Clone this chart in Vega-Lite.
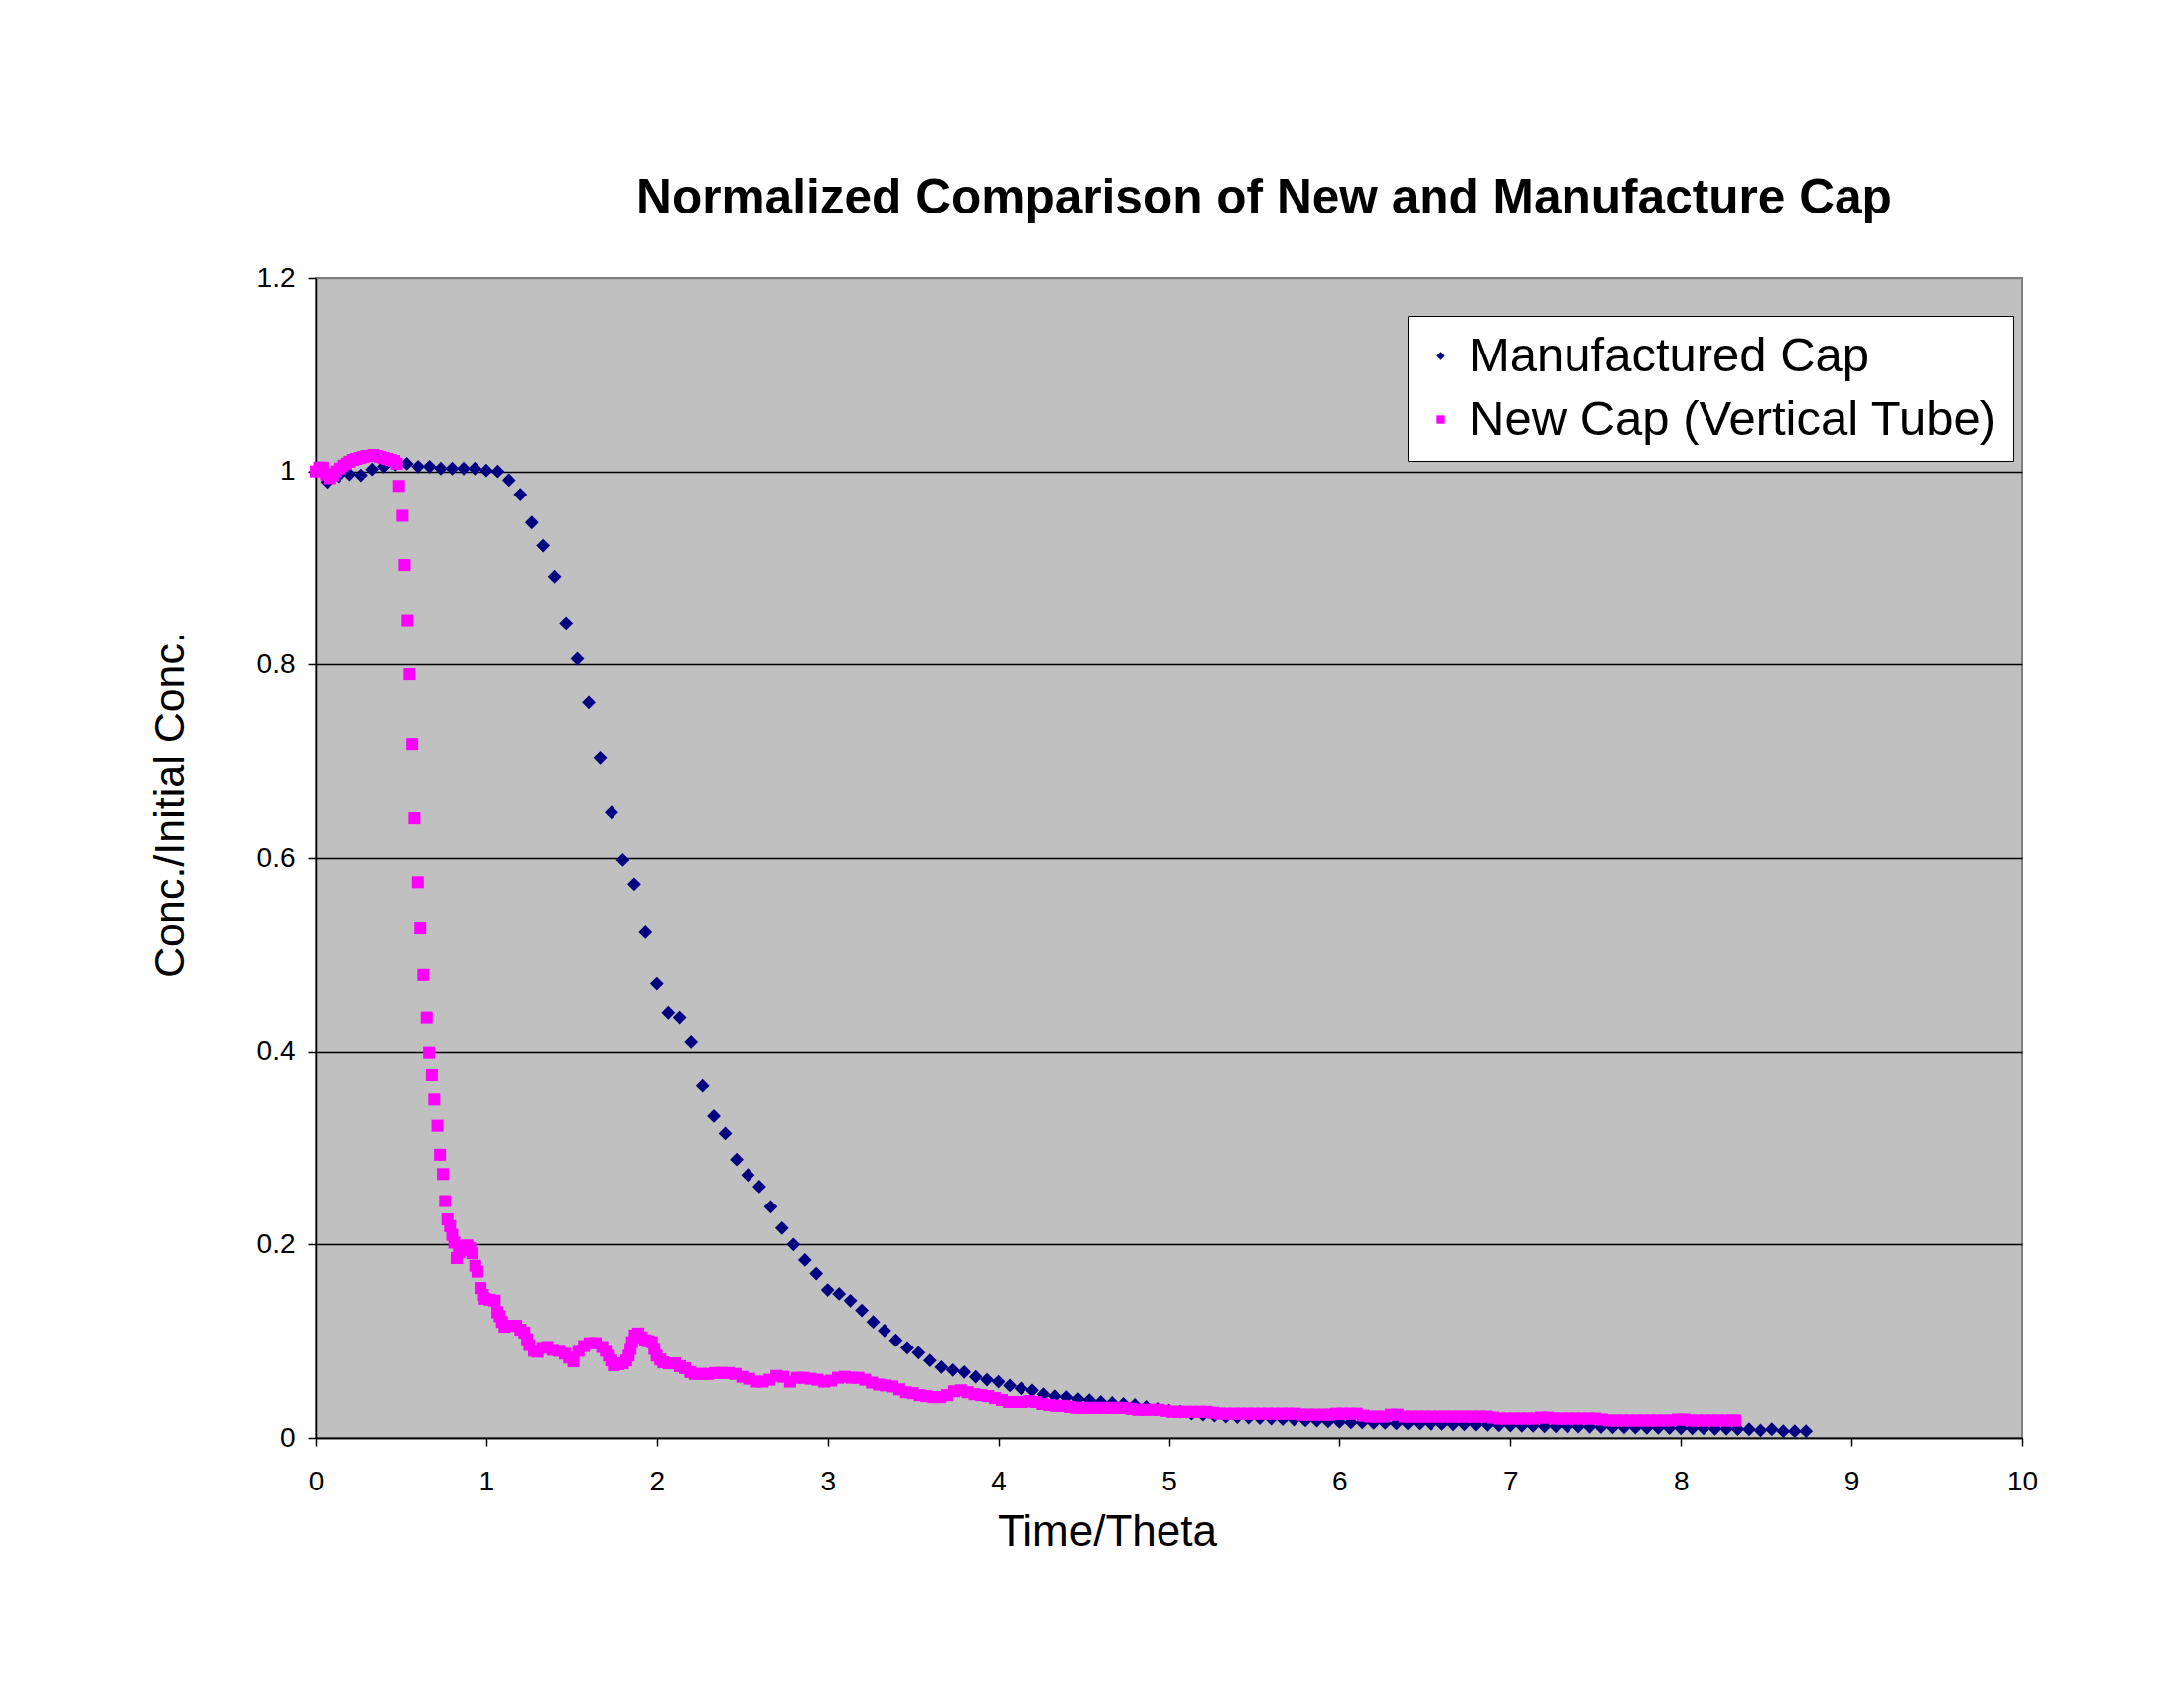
{
"$schema":"https://vega.github.io/schema/vega-lite/v6.json",
"width":1719,"height":1168,
"autosize":{"type":"none"},
"padding":{"left":318,"top":280,"right":163,"bottom":264},
"background":"white",
"title":{"text":"Normalized Comparison of New and Manufacture Cap","anchor":"middle","frame":"group","dx":96,"offset":40,"fontSize":49.6,"font":"Liberation Sans","fontWeight":"bold","color":"black"},
"datasets":{"pts":[
{"series":"Manufactured Cap","time":0,"conc":1.0},{"series":"Manufactured Cap","time":0.067,"conc":0.989},{"series":"Manufactured Cap","time":0.133,"conc":0.995},{"series":"Manufactured Cap","time":0.2,"conc":0.997},{"series":"Manufactured Cap","time":0.267,"conc":0.996},{"series":"Manufactured Cap","time":0.333,"conc":1.002},{"series":"Manufactured Cap","time":0.4,"conc":1.005},{"series":"Manufactured Cap","time":0.467,"conc":1.007},{"series":"Manufactured Cap","time":0.533,"conc":1.008},{"series":"Manufactured Cap","time":0.6,"conc":1.005},{"series":"Manufactured Cap","time":0.667,"conc":1.005},{"series":"Manufactured Cap","time":0.733,"conc":1.003},{"series":"Manufactured Cap","time":0.8,"conc":1.003},{"series":"Manufactured Cap","time":0.867,"conc":1.003},{"series":"Manufactured Cap","time":0.933,"conc":1.003},{"series":"Manufactured Cap","time":1.0,"conc":1.001},{"series":"Manufactured Cap","time":1.067,"conc":1.0},{"series":"Manufactured Cap","time":1.133,"conc":0.991},{"series":"Manufactured Cap","time":1.2,"conc":0.976},{"series":"Manufactured Cap","time":1.267,"conc":0.947},{"series":"Manufactured Cap","time":1.333,"conc":0.923},{"series":"Manufactured Cap","time":1.4,"conc":0.891},{"series":"Manufactured Cap","time":1.467,"conc":0.843},{"series":"Manufactured Cap","time":1.533,"conc":0.806},{"series":"Manufactured Cap","time":1.6,"conc":0.761},{"series":"Manufactured Cap","time":1.667,"conc":0.704},{"series":"Manufactured Cap","time":1.733,"conc":0.647},{"series":"Manufactured Cap","time":1.8,"conc":0.598},{"series":"Manufactured Cap","time":1.867,"conc":0.573},{"series":"Manufactured Cap","time":1.933,"conc":0.523},{"series":"Manufactured Cap","time":2.0,"conc":0.47},{"series":"Manufactured Cap","time":2.067,"conc":0.44},{"series":"Manufactured Cap","time":2.133,"conc":0.435},{"series":"Manufactured Cap","time":2.2,"conc":0.41},{"series":"Manufactured Cap","time":2.267,"conc":0.364},{"series":"Manufactured Cap","time":2.333,"conc":0.333},{"series":"Manufactured Cap","time":2.4,"conc":0.315},{"series":"Manufactured Cap","time":2.467,"conc":0.288},{"series":"Manufactured Cap","time":2.533,"conc":0.272},{"series":"Manufactured Cap","time":2.6,"conc":0.26},{"series":"Manufactured Cap","time":2.667,"conc":0.239},{"series":"Manufactured Cap","time":2.733,"conc":0.217},{"series":"Manufactured Cap","time":2.8,"conc":0.2},{"series":"Manufactured Cap","time":2.867,"conc":0.184},{"series":"Manufactured Cap","time":2.933,"conc":0.17},{"series":"Manufactured Cap","time":3.0,"conc":0.153},{"series":"Manufactured Cap","time":3.067,"conc":0.149},{"series":"Manufactured Cap","time":3.133,"conc":0.142},{"series":"Manufactured Cap","time":3.2,"conc":0.132},{"series":"Manufactured Cap","time":3.267,"conc":0.12},{"series":"Manufactured Cap","time":3.333,"conc":0.111},{"series":"Manufactured Cap","time":3.4,"conc":0.101},{"series":"Manufactured Cap","time":3.467,"conc":0.093},{"series":"Manufactured Cap","time":3.533,"conc":0.088},{"series":"Manufactured Cap","time":3.6,"conc":0.08},{"series":"Manufactured Cap","time":3.667,"conc":0.073},{"series":"Manufactured Cap","time":3.733,"conc":0.07},{"series":"Manufactured Cap","time":3.8,"conc":0.068},{"series":"Manufactured Cap","time":3.867,"conc":0.063},{"series":"Manufactured Cap","time":3.933,"conc":0.06},{"series":"Manufactured Cap","time":4.0,"conc":0.058},{"series":"Manufactured Cap","time":4.067,"conc":0.054},{"series":"Manufactured Cap","time":4.133,"conc":0.051},{"series":"Manufactured Cap","time":4.2,"conc":0.049},{"series":"Manufactured Cap","time":4.267,"conc":0.045},{"series":"Manufactured Cap","time":4.333,"conc":0.043},{"series":"Manufactured Cap","time":4.4,"conc":0.042},{"series":"Manufactured Cap","time":4.467,"conc":0.04},{"series":"Manufactured Cap","time":4.533,"conc":0.039},{"series":"Manufactured Cap","time":4.6,"conc":0.037},{"series":"Manufactured Cap","time":4.667,"conc":0.036},{"series":"Manufactured Cap","time":4.733,"conc":0.035},{"series":"Manufactured Cap","time":4.8,"conc":0.034},{"series":"Manufactured Cap","time":4.867,"conc":0.032},{"series":"Manufactured Cap","time":4.933,"conc":0.03},{"series":"Manufactured Cap","time":5.0,"conc":0.028},{"series":"Manufactured Cap","time":5.067,"conc":0.027},{"series":"Manufactured Cap","time":5.133,"conc":0.025},{"series":"Manufactured Cap","time":5.2,"conc":0.024},{"series":"Manufactured Cap","time":5.267,"conc":0.023},{"series":"Manufactured Cap","time":5.333,"conc":0.022},{"series":"Manufactured Cap","time":5.4,"conc":0.0215},{"series":"Manufactured Cap","time":5.467,"conc":0.021},{"series":"Manufactured Cap","time":5.533,"conc":0.0205},{"series":"Manufactured Cap","time":5.6,"conc":0.02},{"series":"Manufactured Cap","time":5.667,"conc":0.0195},{"series":"Manufactured Cap","time":5.733,"conc":0.019},{"series":"Manufactured Cap","time":5.8,"conc":0.018},{"series":"Manufactured Cap","time":5.867,"conc":0.0178},{"series":"Manufactured Cap","time":5.933,"conc":0.017},{"series":"Manufactured Cap","time":6.0,"conc":0.0165},{"series":"Manufactured Cap","time":6.067,"conc":0.016},{"series":"Manufactured Cap","time":6.133,"conc":0.016},{"series":"Manufactured Cap","time":6.2,"conc":0.0155},{"series":"Manufactured Cap","time":6.267,"conc":0.0155},{"series":"Manufactured Cap","time":6.333,"conc":0.015},{"series":"Manufactured Cap","time":6.4,"conc":0.015},{"series":"Manufactured Cap","time":6.467,"conc":0.015},{"series":"Manufactured Cap","time":6.533,"conc":0.0145},{"series":"Manufactured Cap","time":6.6,"conc":0.0145},{"series":"Manufactured Cap","time":6.667,"conc":0.014},{"series":"Manufactured Cap","time":6.733,"conc":0.014},{"series":"Manufactured Cap","time":6.8,"conc":0.0138},{"series":"Manufactured Cap","time":6.867,"conc":0.0135},{"series":"Manufactured Cap","time":6.933,"conc":0.013},{"series":"Manufactured Cap","time":7.0,"conc":0.0128},{"series":"Manufactured Cap","time":7.067,"conc":0.0125},{"series":"Manufactured Cap","time":7.133,"conc":0.0125},{"series":"Manufactured Cap","time":7.2,"conc":0.012},{"series":"Manufactured Cap","time":7.267,"conc":0.012},{"series":"Manufactured Cap","time":7.333,"conc":0.012},{"series":"Manufactured Cap","time":7.4,"conc":0.0118},{"series":"Manufactured Cap","time":7.467,"conc":0.0115},{"series":"Manufactured Cap","time":7.533,"conc":0.0112},{"series":"Manufactured Cap","time":7.6,"conc":0.011},{"series":"Manufactured Cap","time":7.667,"conc":0.011},{"series":"Manufactured Cap","time":7.733,"conc":0.0108},{"series":"Manufactured Cap","time":7.8,"conc":0.0105},{"series":"Manufactured Cap","time":7.867,"conc":0.0105},{"series":"Manufactured Cap","time":7.933,"conc":0.0102},{"series":"Manufactured Cap","time":8.0,"conc":0.01},{"series":"Manufactured Cap","time":8.067,"conc":0.01},{"series":"Manufactured Cap","time":8.133,"conc":0.0098},{"series":"Manufactured Cap","time":8.2,"conc":0.0095},{"series":"Manufactured Cap","time":8.267,"conc":0.0095},{"series":"Manufactured Cap","time":8.333,"conc":0.0092},{"series":"Manufactured Cap","time":8.4,"conc":0.009},{"series":"Manufactured Cap","time":8.467,"conc":0.0078},{"series":"Manufactured Cap","time":8.533,"conc":0.009},{"series":"Manufactured Cap","time":8.6,"conc":0.007},{"series":"Manufactured Cap","time":8.667,"conc":0.007},{"series":"Manufactured Cap","time":8.733,"conc":0.007},
{"series":"New Cap (Vertical Tube)","time":0,"conc":1.0},{"series":"New Cap (Vertical Tube)","time":0.02,"conc":1.004},{"series":"New Cap (Vertical Tube)","time":0.04,"conc":1.004},{"series":"New Cap (Vertical Tube)","time":0.06,"conc":0.997},{"series":"New Cap (Vertical Tube)","time":0.08,"conc":0.993},{"series":"New Cap (Vertical Tube)","time":0.1,"conc":0.996},{"series":"New Cap (Vertical Tube)","time":0.12,"conc":1.0},{"series":"New Cap (Vertical Tube)","time":0.14,"conc":1.003},{"series":"New Cap (Vertical Tube)","time":0.16,"conc":1.006},{"series":"New Cap (Vertical Tube)","time":0.18,"conc":1.008},{"series":"New Cap (Vertical Tube)","time":0.2,"conc":1.01},{"series":"New Cap (Vertical Tube)","time":0.22,"conc":1.012},{"series":"New Cap (Vertical Tube)","time":0.24,"conc":1.013},{"series":"New Cap (Vertical Tube)","time":0.26,"conc":1.014},{"series":"New Cap (Vertical Tube)","time":0.28,"conc":1.015},{"series":"New Cap (Vertical Tube)","time":0.3,"conc":1.016},{"series":"New Cap (Vertical Tube)","time":0.32,"conc":1.016},{"series":"New Cap (Vertical Tube)","time":0.34,"conc":1.017},{"series":"New Cap (Vertical Tube)","time":0.36,"conc":1.016},{"series":"New Cap (Vertical Tube)","time":0.38,"conc":1.015},{"series":"New Cap (Vertical Tube)","time":0.4,"conc":1.014},{"series":"New Cap (Vertical Tube)","time":0.42,"conc":1.013},{"series":"New Cap (Vertical Tube)","time":0.44,"conc":1.012},{"series":"New Cap (Vertical Tube)","time":0.46,"conc":1.011},{"series":"New Cap (Vertical Tube)","time":0.475,"conc":1.008},{"series":"New Cap (Vertical Tube)","time":0.487,"conc":0.985},{"series":"New Cap (Vertical Tube)","time":0.508,"conc":0.954},{"series":"New Cap (Vertical Tube)","time":0.52,"conc":0.903},{"series":"New Cap (Vertical Tube)","time":0.537,"conc":0.846},{"series":"New Cap (Vertical Tube)","time":0.549,"conc":0.79},{"series":"New Cap (Vertical Tube)","time":0.565,"conc":0.718},{"series":"New Cap (Vertical Tube)","time":0.578,"conc":0.641},{"series":"New Cap (Vertical Tube)","time":0.598,"conc":0.575},{"series":"New Cap (Vertical Tube)","time":0.612,"conc":0.527},{"series":"New Cap (Vertical Tube)","time":0.63,"conc":0.479},{"series":"New Cap (Vertical Tube)","time":0.65,"conc":0.435},{"series":"New Cap (Vertical Tube)","time":0.664,"conc":0.399},{"series":"New Cap (Vertical Tube)","time":0.68,"conc":0.375},{"series":"New Cap (Vertical Tube)","time":0.694,"conc":0.35},{"series":"New Cap (Vertical Tube)","time":0.713,"conc":0.323},{"series":"New Cap (Vertical Tube)","time":0.728,"conc":0.293},{"series":"New Cap (Vertical Tube)","time":0.745,"conc":0.273},{"series":"New Cap (Vertical Tube)","time":0.758,"conc":0.245},{"series":"New Cap (Vertical Tube)","time":0.772,"conc":0.226},{"series":"New Cap (Vertical Tube)","time":0.787,"conc":0.219},{"series":"New Cap (Vertical Tube)","time":0.8,"conc":0.21},{"series":"New Cap (Vertical Tube)","time":0.812,"conc":0.202},{"series":"New Cap (Vertical Tube)","time":0.826,"conc":0.186},{"series":"New Cap (Vertical Tube)","time":0.84,"conc":0.192},{"series":"New Cap (Vertical Tube)","time":0.855,"conc":0.194},{"series":"New Cap (Vertical Tube)","time":0.87,"conc":0.198},{"series":"New Cap (Vertical Tube)","time":0.888,"conc":0.199},{"series":"New Cap (Vertical Tube)","time":0.905,"conc":0.196},{"series":"New Cap (Vertical Tube)","time":0.918,"conc":0.191},{"series":"New Cap (Vertical Tube)","time":0.935,"conc":0.178},{"series":"New Cap (Vertical Tube)","time":0.948,"conc":0.172},{"series":"New Cap (Vertical Tube)","time":0.966,"conc":0.155},{"series":"New Cap (Vertical Tube)","time":0.98,"conc":0.148},{"series":"New Cap (Vertical Tube)","time":0.991,"conc":0.144},{"series":"New Cap (Vertical Tube)","time":1.02,"conc":0.143},{"series":"New Cap (Vertical Tube)","time":1.049,"conc":0.142},{"series":"New Cap (Vertical Tube)","time":1.065,"conc":0.13},{"series":"New Cap (Vertical Tube)","time":1.078,"conc":0.126},{"series":"New Cap (Vertical Tube)","time":1.092,"conc":0.12},{"series":"New Cap (Vertical Tube)","time":1.107,"conc":0.115},{"series":"New Cap (Vertical Tube)","time":1.14,"conc":0.116},{"series":"New Cap (Vertical Tube)","time":1.175,"conc":0.116},{"series":"New Cap (Vertical Tube)","time":1.2,"conc":0.112},{"series":"New Cap (Vertical Tube)","time":1.223,"conc":0.109},{"series":"New Cap (Vertical Tube)","time":1.24,"conc":0.102},{"series":"New Cap (Vertical Tube)","time":1.253,"conc":0.096},{"series":"New Cap (Vertical Tube)","time":1.28,"conc":0.09},{"series":"New Cap (Vertical Tube)","time":1.301,"conc":0.089},{"series":"New Cap (Vertical Tube)","time":1.33,"conc":0.093},{"series":"New Cap (Vertical Tube)","time":1.359,"conc":0.094},{"series":"New Cap (Vertical Tube)","time":1.39,"conc":0.091},{"series":"New Cap (Vertical Tube)","time":1.427,"conc":0.09},{"series":"New Cap (Vertical Tube)","time":1.46,"conc":0.087},{"series":"New Cap (Vertical Tube)","time":1.485,"conc":0.083},{"series":"New Cap (Vertical Tube)","time":1.51,"conc":0.079},{"series":"New Cap (Vertical Tube)","time":1.54,"conc":0.09},{"series":"New Cap (Vertical Tube)","time":1.572,"conc":0.095},{"series":"New Cap (Vertical Tube)","time":1.605,"conc":0.098},{"series":"New Cap (Vertical Tube)","time":1.64,"conc":0.098},{"series":"New Cap (Vertical Tube)","time":1.679,"conc":0.094},{"series":"New Cap (Vertical Tube)","time":1.7,"conc":0.09},{"series":"New Cap (Vertical Tube)","time":1.718,"conc":0.085},{"series":"New Cap (Vertical Tube)","time":1.732,"conc":0.08},{"series":"New Cap (Vertical Tube)","time":1.747,"conc":0.075},{"series":"New Cap (Vertical Tube)","time":1.775,"conc":0.076},{"series":"New Cap (Vertical Tube)","time":1.8,"conc":0.077},{"series":"New Cap (Vertical Tube)","time":1.82,"conc":0.08},{"series":"New Cap (Vertical Tube)","time":1.834,"conc":0.085},{"series":"New Cap (Vertical Tube)","time":1.845,"conc":0.092},{"series":"New Cap (Vertical Tube)","time":1.854,"conc":0.099},{"series":"New Cap (Vertical Tube)","time":1.87,"conc":0.106},{"series":"New Cap (Vertical Tube)","time":1.89,"conc":0.108},{"series":"New Cap (Vertical Tube)","time":1.91,"conc":0.104},{"series":"New Cap (Vertical Tube)","time":1.931,"conc":0.101},{"series":"New Cap (Vertical Tube)","time":1.95,"conc":0.1},{"series":"New Cap (Vertical Tube)","time":1.97,"conc":0.099},{"series":"New Cap (Vertical Tube)","time":1.985,"conc":0.092},{"series":"New Cap (Vertical Tube)","time":1.999,"conc":0.085},{"series":"New Cap (Vertical Tube)","time":2.02,"conc":0.081},{"series":"New Cap (Vertical Tube)","time":2.038,"conc":0.078},{"series":"New Cap (Vertical Tube)","time":2.07,"conc":0.077},{"series":"New Cap (Vertical Tube)","time":2.106,"conc":0.077},{"series":"New Cap (Vertical Tube)","time":2.135,"conc":0.074},{"series":"New Cap (Vertical Tube)","time":2.164,"conc":0.072},{"series":"New Cap (Vertical Tube)","time":2.195,"conc":0.068},{"series":"New Cap (Vertical Tube)","time":2.222,"conc":0.066},{"series":"New Cap (Vertical Tube)","time":2.26,"conc":0.066},{"series":"New Cap (Vertical Tube)","time":2.3,"conc":0.066},{"series":"New Cap (Vertical Tube)","time":2.34,"conc":0.067},{"series":"New Cap (Vertical Tube)","time":2.38,"conc":0.067},{"series":"New Cap (Vertical Tube)","time":2.42,"conc":0.067},{"series":"New Cap (Vertical Tube)","time":2.46,"conc":0.066},{"series":"New Cap (Vertical Tube)","time":2.5,"conc":0.063},{"series":"New Cap (Vertical Tube)","time":2.54,"conc":0.061},{"series":"New Cap (Vertical Tube)","time":2.58,"conc":0.058},{"series":"New Cap (Vertical Tube)","time":2.62,"conc":0.058},{"series":"New Cap (Vertical Tube)","time":2.66,"conc":0.06},{"series":"New Cap (Vertical Tube)","time":2.7,"conc":0.064},{"series":"New Cap (Vertical Tube)","time":2.74,"conc":0.063},{"series":"New Cap (Vertical Tube)","time":2.78,"conc":0.058},{"series":"New Cap (Vertical Tube)","time":2.82,"conc":0.062},{"series":"New Cap (Vertical Tube)","time":2.86,"conc":0.062},{"series":"New Cap (Vertical Tube)","time":2.9,"conc":0.061},{"series":"New Cap (Vertical Tube)","time":2.94,"conc":0.06},{"series":"New Cap (Vertical Tube)","time":2.98,"conc":0.058},{"series":"New Cap (Vertical Tube)","time":3.02,"conc":0.059},{"series":"New Cap (Vertical Tube)","time":3.06,"conc":0.062},{"series":"New Cap (Vertical Tube)","time":3.1,"conc":0.063},{"series":"New Cap (Vertical Tube)","time":3.14,"conc":0.062},{"series":"New Cap (Vertical Tube)","time":3.18,"conc":0.062},{"series":"New Cap (Vertical Tube)","time":3.22,"conc":0.06},{"series":"New Cap (Vertical Tube)","time":3.26,"conc":0.057},{"series":"New Cap (Vertical Tube)","time":3.3,"conc":0.055},{"series":"New Cap (Vertical Tube)","time":3.34,"conc":0.054},{"series":"New Cap (Vertical Tube)","time":3.38,"conc":0.053},{"series":"New Cap (Vertical Tube)","time":3.42,"conc":0.05},{"series":"New Cap (Vertical Tube)","time":3.46,"conc":0.047},{"series":"New Cap (Vertical Tube)","time":3.5,"conc":0.046},{"series":"New Cap (Vertical Tube)","time":3.54,"conc":0.044},{"series":"New Cap (Vertical Tube)","time":3.58,"conc":0.043},{"series":"New Cap (Vertical Tube)","time":3.62,"conc":0.042},{"series":"New Cap (Vertical Tube)","time":3.66,"conc":0.042},{"series":"New Cap (Vertical Tube)","time":3.7,"conc":0.044},{"series":"New Cap (Vertical Tube)","time":3.74,"conc":0.048},{"series":"New Cap (Vertical Tube)","time":3.78,"conc":0.049},{"series":"New Cap (Vertical Tube)","time":3.82,"conc":0.047},{"series":"New Cap (Vertical Tube)","time":3.86,"conc":0.045},{"series":"New Cap (Vertical Tube)","time":3.9,"conc":0.044},{"series":"New Cap (Vertical Tube)","time":3.94,"conc":0.043},{"series":"New Cap (Vertical Tube)","time":3.98,"conc":0.041},{"series":"New Cap (Vertical Tube)","time":4.02,"conc":0.039},{"series":"New Cap (Vertical Tube)","time":4.06,"conc":0.037},{"series":"New Cap (Vertical Tube)","time":4.1,"conc":0.037},{"series":"New Cap (Vertical Tube)","time":4.14,"conc":0.037},{"series":"New Cap (Vertical Tube)","time":4.18,"conc":0.038},{"series":"New Cap (Vertical Tube)","time":4.22,"conc":0.037},{"series":"New Cap (Vertical Tube)","time":4.26,"conc":0.035},{"series":"New Cap (Vertical Tube)","time":4.3,"conc":0.034},{"series":"New Cap (Vertical Tube)","time":4.34,"conc":0.033},{"series":"New Cap (Vertical Tube)","time":4.38,"conc":0.033},{"series":"New Cap (Vertical Tube)","time":4.42,"conc":0.032},{"series":"New Cap (Vertical Tube)","time":4.46,"conc":0.031},{"series":"New Cap (Vertical Tube)","time":4.5,"conc":0.031},{"series":"New Cap (Vertical Tube)","time":4.54,"conc":0.031},{"series":"New Cap (Vertical Tube)","time":4.58,"conc":0.031},{"series":"New Cap (Vertical Tube)","time":4.62,"conc":0.031},{"series":"New Cap (Vertical Tube)","time":4.66,"conc":0.031},{"series":"New Cap (Vertical Tube)","time":4.7,"conc":0.031},{"series":"New Cap (Vertical Tube)","time":4.74,"conc":0.031},{"series":"New Cap (Vertical Tube)","time":4.78,"conc":0.03},{"series":"New Cap (Vertical Tube)","time":4.82,"conc":0.029},{"series":"New Cap (Vertical Tube)","time":4.86,"conc":0.029},{"series":"New Cap (Vertical Tube)","time":4.9,"conc":0.029},{"series":"New Cap (Vertical Tube)","time":4.94,"conc":0.029},{"series":"New Cap (Vertical Tube)","time":4.98,"conc":0.028},{"series":"New Cap (Vertical Tube)","time":5.02,"conc":0.027},{"series":"New Cap (Vertical Tube)","time":5.06,"conc":0.027},{"series":"New Cap (Vertical Tube)","time":5.1,"conc":0.027},{"series":"New Cap (Vertical Tube)","time":5.14,"conc":0.027},{"series":"New Cap (Vertical Tube)","time":5.18,"conc":0.027},{"series":"New Cap (Vertical Tube)","time":5.22,"conc":0.027},{"series":"New Cap (Vertical Tube)","time":5.26,"conc":0.026},{"series":"New Cap (Vertical Tube)","time":5.3,"conc":0.025},{"series":"New Cap (Vertical Tube)","time":5.34,"conc":0.025},{"series":"New Cap (Vertical Tube)","time":5.38,"conc":0.025},{"series":"New Cap (Vertical Tube)","time":5.42,"conc":0.025},{"series":"New Cap (Vertical Tube)","time":5.46,"conc":0.025},{"series":"New Cap (Vertical Tube)","time":5.5,"conc":0.025},{"series":"New Cap (Vertical Tube)","time":5.54,"conc":0.025},{"series":"New Cap (Vertical Tube)","time":5.58,"conc":0.025},{"series":"New Cap (Vertical Tube)","time":5.62,"conc":0.025},{"series":"New Cap (Vertical Tube)","time":5.66,"conc":0.025},{"series":"New Cap (Vertical Tube)","time":5.7,"conc":0.025},{"series":"New Cap (Vertical Tube)","time":5.74,"conc":0.025},{"series":"New Cap (Vertical Tube)","time":5.78,"conc":0.024},{"series":"New Cap (Vertical Tube)","time":5.82,"conc":0.024},{"series":"New Cap (Vertical Tube)","time":5.86,"conc":0.024},{"series":"New Cap (Vertical Tube)","time":5.9,"conc":0.024},{"series":"New Cap (Vertical Tube)","time":5.94,"conc":0.024},{"series":"New Cap (Vertical Tube)","time":5.98,"conc":0.025},{"series":"New Cap (Vertical Tube)","time":6.02,"conc":0.025},{"series":"New Cap (Vertical Tube)","time":6.06,"conc":0.025},{"series":"New Cap (Vertical Tube)","time":6.1,"conc":0.025},{"series":"New Cap (Vertical Tube)","time":6.14,"conc":0.023},{"series":"New Cap (Vertical Tube)","time":6.18,"conc":0.022},{"series":"New Cap (Vertical Tube)","time":6.22,"conc":0.022},{"series":"New Cap (Vertical Tube)","time":6.26,"conc":0.022},{"series":"New Cap (Vertical Tube)","time":6.3,"conc":0.024},{"series":"New Cap (Vertical Tube)","time":6.34,"conc":0.024},{"series":"New Cap (Vertical Tube)","time":6.38,"conc":0.022},{"series":"New Cap (Vertical Tube)","time":6.42,"conc":0.022},{"series":"New Cap (Vertical Tube)","time":6.46,"conc":0.022},{"series":"New Cap (Vertical Tube)","time":6.5,"conc":0.022},{"series":"New Cap (Vertical Tube)","time":6.54,"conc":0.022},{"series":"New Cap (Vertical Tube)","time":6.58,"conc":0.022},{"series":"New Cap (Vertical Tube)","time":6.62,"conc":0.022},{"series":"New Cap (Vertical Tube)","time":6.66,"conc":0.022},{"series":"New Cap (Vertical Tube)","time":6.7,"conc":0.022},{"series":"New Cap (Vertical Tube)","time":6.74,"conc":0.022},{"series":"New Cap (Vertical Tube)","time":6.78,"conc":0.022},{"series":"New Cap (Vertical Tube)","time":6.82,"conc":0.022},{"series":"New Cap (Vertical Tube)","time":6.86,"conc":0.022},{"series":"New Cap (Vertical Tube)","time":6.9,"conc":0.021},{"series":"New Cap (Vertical Tube)","time":6.94,"conc":0.02},{"series":"New Cap (Vertical Tube)","time":6.98,"conc":0.02},{"series":"New Cap (Vertical Tube)","time":7.02,"conc":0.02},{"series":"New Cap (Vertical Tube)","time":7.06,"conc":0.02},{"series":"New Cap (Vertical Tube)","time":7.1,"conc":0.02},{"series":"New Cap (Vertical Tube)","time":7.14,"conc":0.02},{"series":"New Cap (Vertical Tube)","time":7.18,"conc":0.021},{"series":"New Cap (Vertical Tube)","time":7.22,"conc":0.021},{"series":"New Cap (Vertical Tube)","time":7.26,"conc":0.02},{"series":"New Cap (Vertical Tube)","time":7.3,"conc":0.02},{"series":"New Cap (Vertical Tube)","time":7.34,"conc":0.02},{"series":"New Cap (Vertical Tube)","time":7.38,"conc":0.02},{"series":"New Cap (Vertical Tube)","time":7.42,"conc":0.02},{"series":"New Cap (Vertical Tube)","time":7.46,"conc":0.02},{"series":"New Cap (Vertical Tube)","time":7.5,"conc":0.02},{"series":"New Cap (Vertical Tube)","time":7.54,"conc":0.019},{"series":"New Cap (Vertical Tube)","time":7.58,"conc":0.018},{"series":"New Cap (Vertical Tube)","time":7.62,"conc":0.018},{"series":"New Cap (Vertical Tube)","time":7.66,"conc":0.018},{"series":"New Cap (Vertical Tube)","time":7.7,"conc":0.018},{"series":"New Cap (Vertical Tube)","time":7.74,"conc":0.018},{"series":"New Cap (Vertical Tube)","time":7.78,"conc":0.018},{"series":"New Cap (Vertical Tube)","time":7.82,"conc":0.018},{"series":"New Cap (Vertical Tube)","time":7.86,"conc":0.018},{"series":"New Cap (Vertical Tube)","time":7.9,"conc":0.018},{"series":"New Cap (Vertical Tube)","time":7.94,"conc":0.018},{"series":"New Cap (Vertical Tube)","time":7.98,"conc":0.019},{"series":"New Cap (Vertical Tube)","time":8.02,"conc":0.019},{"series":"New Cap (Vertical Tube)","time":8.06,"conc":0.018},{"series":"New Cap (Vertical Tube)","time":8.1,"conc":0.018},{"series":"New Cap (Vertical Tube)","time":8.14,"conc":0.018},{"series":"New Cap (Vertical Tube)","time":8.18,"conc":0.018},{"series":"New Cap (Vertical Tube)","time":8.22,"conc":0.018},{"series":"New Cap (Vertical Tube)","time":8.26,"conc":0.018},{"series":"New Cap (Vertical Tube)","time":8.3,"conc":0.018},{"series":"New Cap (Vertical Tube)","time":8.32,"conc":0.018}
]},
"data":{"name":"pts"},
"encoding":{
 "x":{"field":"time","type":"quantitative","scale":{"domain":[0,10],"nice":false,"zero":false},
  "axis":{"values":[0,1,2,3,4,5,6,7,8,9,10],"grid":false,"tickSize":8,"labelPadding":22,"labelFontSize":28,"labelFlush":false,"title":"Time/Theta","titleFontSize":44,"titleFontWeight":"normal","titleX":797,"titleY":95,"titleBaseline":"middle","titleAlign":"center"}},
 "y":{"field":"conc","type":"quantitative","scale":{"domain":[0,1.2],"nice":false,"zero":false},
  "axis":{"values":[0,0.2,0.4,0.6,0.8,1,1.2],"format":"~g","grid":true,"gridColor":{"condition":{"test":"datum.value >= 1.19","value":"#808080"},"value":"black"},"gridWidth":1.3,"tickSize":8,"labelPadding":13,"labelFontSize":28,"labelFlush":false,"title":"Conc./Initial Conc.","titleFontSize":43,"titleFontWeight":"normal","titleAngle":-90,"titleX":-147,"titleY":530,"titleBaseline":"middle","titleAlign":"center"}},
 "color":{"field":"series","type":"nominal","scale":{"domain":["Manufactured Cap","New Cap (Vertical Tube)"],"range":["#000080","#FF00FF"]},
  "legend":{"orient":"none","legendX":1100,"legendY":38,"title":null,"fillColor":"white","strokeColor":"black","padding":16,"labelFontSize":49,"labelFont":"Liberation Sans","labelColor":"black","labelLimit":0,"symbolSize":70,"symbolOffset":-7,"labelOffset":4,"rowPadding":14,"symbolStrokeWidth":0}},
 "shape":{"field":"series","type":"nominal","scale":{"domain":["Manufactured Cap","New Cap (Vertical Tube)"],"range":["diamond","square"]},
  "legend":{"orient":"none","legendX":1100,"legendY":38,"title":null,"fillColor":"white","strokeColor":"black","padding":16,"labelFontSize":49,"labelFont":"Liberation Sans","labelColor":"black","labelLimit":0,"symbolSize":70,"symbolOffset":-7,"labelOffset":4,"rowPadding":14,"symbolStrokeWidth":0}}
},
"layer":[
 {"transform":[{"filter":"datum.series === 'Manufactured Cap'"}],"mark":{"type":"point","filled":true,"size":190,"opacity":1,"strokeWidth":0}},
 {"transform":[{"filter":"datum.series !== 'Manufactured Cap'"}],"mark":{"type":"point","filled":true,"size":145,"opacity":1,"strokeWidth":0}}
],
"config":{
 "view":{"fill":"#C0C0C0","stroke":"#808080","strokeWidth":2},
 "axis":{"labelFont":"Liberation Sans","titleFont":"Liberation Sans","labelColor":"black","titleColor":"black","tickColor":"black","domainColor":"black","domainWidth":1.5,"tickWidth":1.5}
}
}
